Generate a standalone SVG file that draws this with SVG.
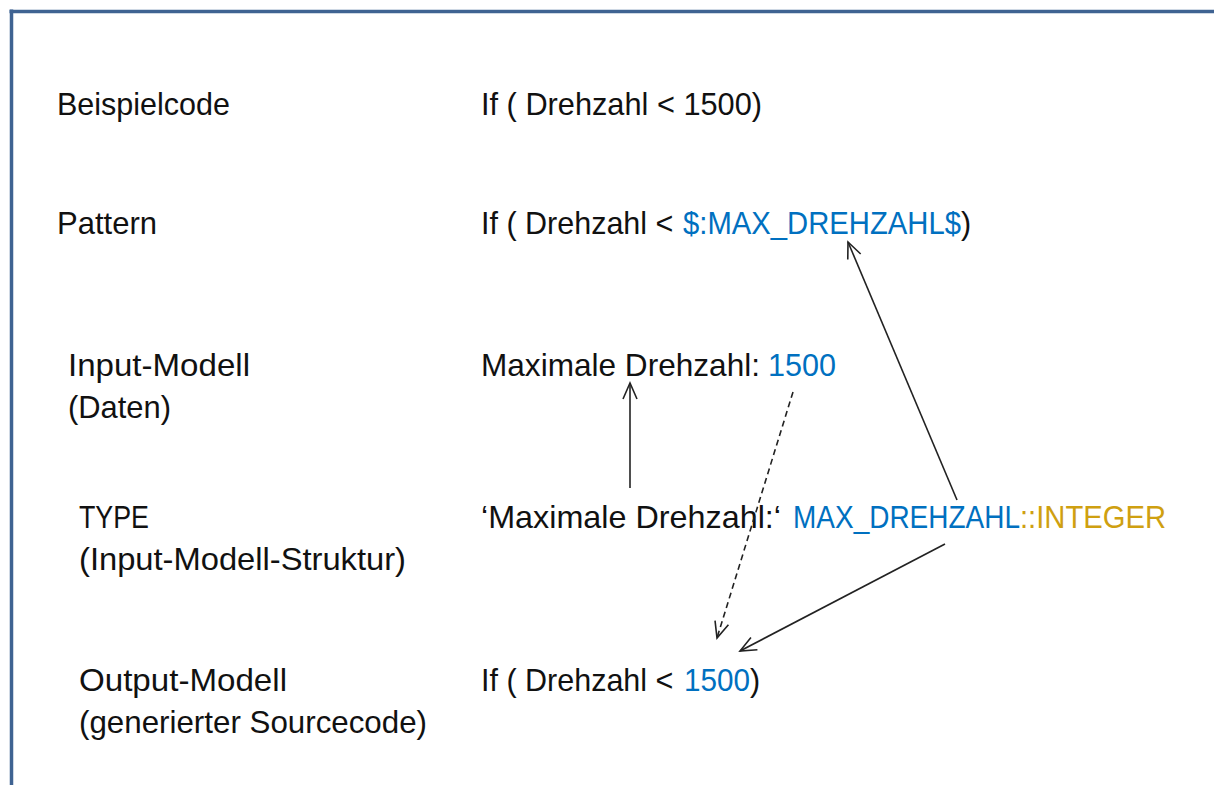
<svg xmlns="http://www.w3.org/2000/svg" width="1214" height="785" viewBox="0 0 1214 785">
<style>
text{font-family:"Liberation Sans",Arial,sans-serif;font-size:30.5px;fill:#111}
.b{fill:#0070c0}
.g{fill:#cfa010}
.c{stroke:#222;stroke-width:1.6;fill:none}
.d{stroke-dasharray:6 4}
</style>
<defs>
<marker id="ah" viewBox="0 0 20 20" refX="18" refY="10" markerWidth="20" markerHeight="20" markerUnits="userSpaceOnUse" orient="auto">
<path d="M2,3 L18,10 L2,17" fill="none" stroke="#222" stroke-width="1.6"/>
</marker>
</defs>
<rect width="1214" height="785" fill="#fff"/>
<g id="frame">
<line x1="9.5" y1="11.5" x2="1214" y2="11.5" stroke="#3f6392" stroke-width="3.5"/>
<line x1="11.5" y1="9.5" x2="11.5" y2="785" stroke="#3f6392" stroke-width="3.5"/>
</g>
<g id="labels">
<text x="57" y="115" textLength="173" lengthAdjust="spacingAndGlyphs">Beispielcode</text>
<text x="57" y="234" textLength="100" lengthAdjust="spacingAndGlyphs">Pattern</text>
<text x="68" y="376" textLength="182" lengthAdjust="spacingAndGlyphs">Input-Modell</text>
<text x="68" y="418" textLength="103" lengthAdjust="spacingAndGlyphs">(Daten)</text>
<text x="79" y="528" textLength="70" lengthAdjust="spacingAndGlyphs">TYPE</text>
<text x="79" y="570" textLength="327" lengthAdjust="spacingAndGlyphs">(Input-Modell-Struktur)</text>
<text x="79" y="691" textLength="208" lengthAdjust="spacingAndGlyphs">Output-Modell</text>
<text x="79" y="733" textLength="348" lengthAdjust="spacingAndGlyphs">(generierter Sourcecode)</text>
</g>
<g id="beispielcode">
<text x="481" y="115" textLength="281" lengthAdjust="spacingAndGlyphs">If ( Drehzahl &lt; 1500)</text>
</g>
<g id="pattern">
<text x="481" y="234">If ( Drehzahl &lt; <tspan x="683" class="b" textLength="278" lengthAdjust="spacingAndGlyphs">$:MAX_DREHZAHL$</tspan>)</text>
</g>
<g id="input">
<text x="481" y="376"><tspan textLength="279" lengthAdjust="spacingAndGlyphs">Maximale Drehzahl:</tspan><tspan x="768" class="b" textLength="68" lengthAdjust="spacingAndGlyphs">1500</tspan></text>
</g>
<g id="type">
<text x="481" y="528"><tspan textLength="300" lengthAdjust="spacingAndGlyphs">‘Maximale Drehzahl:‘</tspan><tspan x="793" class="b" textLength="227" lengthAdjust="spacingAndGlyphs">MAX_DREHZAHL</tspan><tspan class="g" textLength="146" lengthAdjust="spacingAndGlyphs">::INTEGER</tspan></text>
</g>
<g id="output">
<text x="481" y="691">If ( Drehzahl &lt; <tspan x="684" class="b" textLength="66" lengthAdjust="spacingAndGlyphs">1500</tspan>)</text>
</g>
<g id="connectors">
<line class="c" x1="630" y1="488" x2="630" y2="383" marker-end="url(#ah)"/>
<line class="c d" x1="793" y1="392" x2="717" y2="638" marker-end="url(#ah)"/>
<line class="c" x1="957" y1="500" x2="848" y2="242" marker-end="url(#ah)"/>
<line class="c" x1="945" y1="544" x2="740" y2="651" marker-end="url(#ah)"/>
</g>
</svg>
